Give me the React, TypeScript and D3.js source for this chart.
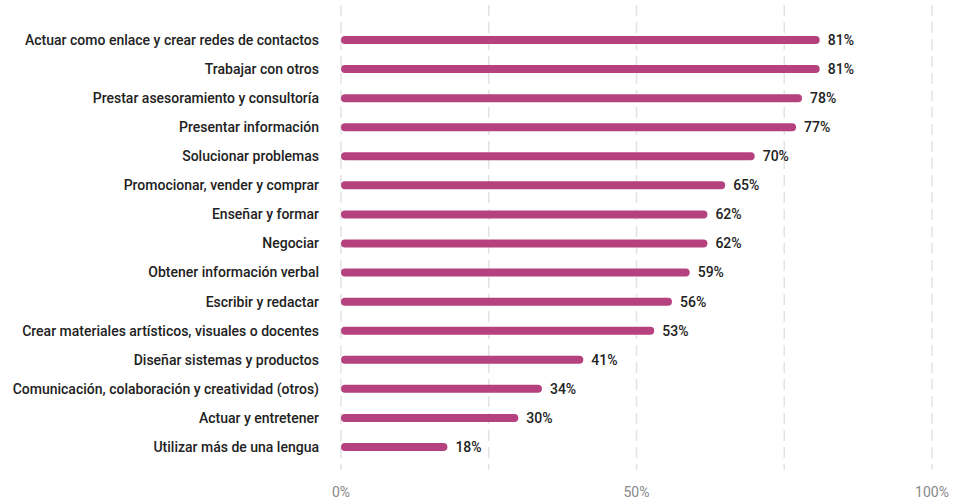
import React from "react";
import * as d3 from "d3";

const categories = [
  "Actuar como enlace y crear redes de contactos",
  "Trabajar con otros",
  "Prestar asesoramiento y consultoría",
  "Presentar información",
  "Solucionar problemas",
  "Promocionar, vender y comprar",
  "Enseñar y formar",
  "Negociar",
  "Obtener información verbal",
  "Escribir y redactar",
  "Crear materiales artísticos, visuales o docentes",
  "Diseñar sistemas y productos",
  "Comunicación, colaboración y creatividad (otros)",
  "Actuar y entretener",
  "Utilizar más de una lengua",
];
const values = [81, 81, 78, 77, 70, 65, 62, 62, 59, 56, 53, 41, 34, 30, 18];
const gridTicks = [0, 25, 50, 75, 100];
const axisTicks = [0, 50, 100];

export default function App() {
  const W = 955, H = 502;
  const x = d3.scaleLinear().domain([0, 100]).range([341, 932]);
  const y = d3.scalePoint<string>().domain(categories).range([40, 447]);
  const font = "Roboto, sans-serif";
  return (
    <svg width={W} height={H} style={{ position: "absolute", left: 0, top: 0 }}>
      <rect width={W} height={H} fill="#fff" />
      {gridTicks.map((t) => (
        <line key={t} x1={x(t)} x2={x(t)} y1={5} y2={470} stroke="#e3e3e3" strokeWidth={1.5} strokeDasharray="11,6" />
      ))}
      {categories.map((c, i) => {
        const yy = y(c)!;
        return (
          <g key={c}>
            <text x={319} y={yy} dy="0.35em" textAnchor="end" fontFamily={font} fontWeight={500} fontSize={14} fill="#222">{c}</text>
            <line x1={x(0) + 4} x2={x(values[i]) - 4} y1={yy} y2={yy} stroke="#b5427f" strokeWidth={8} strokeLinecap="round" />
            <text x={x(values[i]) + 8} y={yy} dy="0.35em" fontFamily={font} fontWeight={500} fontSize={14} fill="#222">{values[i]}%</text>
          </g>
        );
      })}
      {axisTicks.map((t) => (
        <text key={t} x={x(t)} y={492} dy="0.35em" textAnchor="middle" fontFamily={font} fontSize={14} fill="#888">{t}%</text>
      ))}
    </svg>
  );
}
